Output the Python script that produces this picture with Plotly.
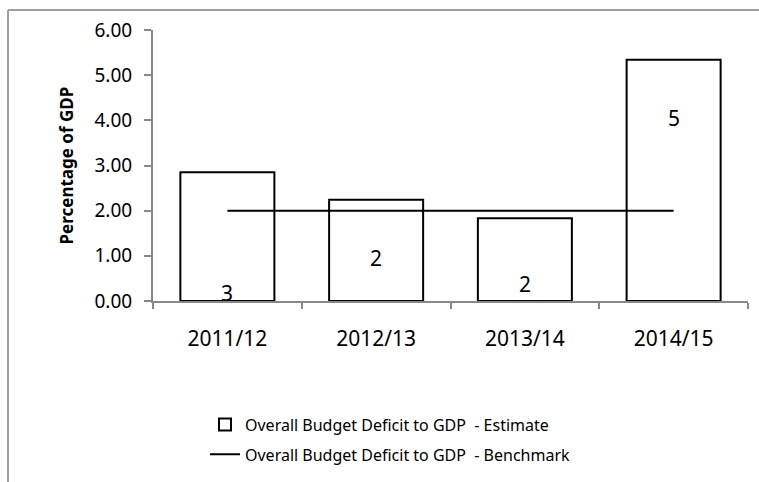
import plotly.graph_objects as go

years = ["2011/12", "2012/13", "2013/14", "2014/15"]
estimate = [2.85, 2.24, 1.83, 5.34]
benchmark = [2.0, 2.0, 2.0, 2.0]
label_pos = [0.17, 0.95, 0.37, 4.06]
y_ticks = [0, 1, 2, 3, 4, 5, 6]

FONT = "Noto Sans"
W, H = 759, 482
L, R, T, B = 153, 11, 30, 179.3
pw, ph = W - L - R, H - T - B

fig = go.Figure()
fig.add_trace(go.Bar(
    x=years, y=estimate,
    name="Overall Budget Deficit to GDP  - Estimate",
    marker=dict(color="white", line=dict(color="black", width=2)),
    legendgroup="a",
))
fig.add_trace(go.Scatter(
    x=years, y=benchmark, mode="lines",
    name="Overall Budget Deficit to GDP  - Benchmark",
    line=dict(color="black", width=2),
    legendgroup="b",
))

for xv, v, p in zip(years, estimate, label_pos):
    fig.add_annotation(x=xv, y=p, text=str(round(v)), showarrow=False,
                       font=dict(family=FONT, size=21, color="black"))

fig.add_annotation(xref="paper", yref="paper", x=(66 - L) / pw, y=0.5,
                   xanchor="center", yanchor="middle", textangle=-90,
                   text="<b>Percentage of GDP</b>", showarrow=False,
                   font=dict(family=FONT, size=17, color="black"))

frame_top = 1 + (T - 10) / ph
frame_left = (8 - L) / pw
fig.add_shape(type="line", xref="paper", yref="paper",
              x0=frame_left, x1=(W + 20 - L) / pw, y0=frame_top, y1=frame_top,
              line=dict(color="#a0a0a0", width=2))
fig.add_shape(type="line", xref="paper", yref="paper",
              x0=frame_left, x1=frame_left, y0=frame_top, y1=-(B + 20) / ph,
              line=dict(color="#a0a0a0", width=2))

fig.update_layout(
    width=W, height=H,
    margin=dict(l=L, r=R, t=T, b=B),
    paper_bgcolor="white", plot_bgcolor="white",
    font=dict(family=FONT, size=16, color="black"),
    bargap=0.368,
    showlegend=True,
    legend=dict(x=(205 - L) / pw, xanchor="left", y=(T + ph - 410) / ph, yanchor="top",
                traceorder="grouped", tracegroupgap=6,
                font=dict(family=FONT, size=16, color="black"),
                bgcolor="rgba(0,0,0,0)"),
)
fig.update_xaxes(type="category", range=[-0.5, 3.5], showline=True, linecolor="#888888",
                 linewidth=2, ticks="outside", tickson="boundaries", ticklen=6,
                 tickcolor="#888888", tickwidth=2, showgrid=False,
                 ticklabelstandoff=18,
                 tickfont=dict(family=FONT, size=21, color="black"))
fig.update_yaxes(range=[0, 6], tickvals=y_ticks, tickformat=".2f", showline=True,
                 linecolor="#888888", linewidth=2, ticks="outside", ticklen=7,
                 tickcolor="#888888", tickwidth=2, showgrid=False, zeroline=False,
                 ticklabelstandoff=8,
                 tickfont=dict(family=FONT, size=19, color="black"))

fig.write_html("out.html")
